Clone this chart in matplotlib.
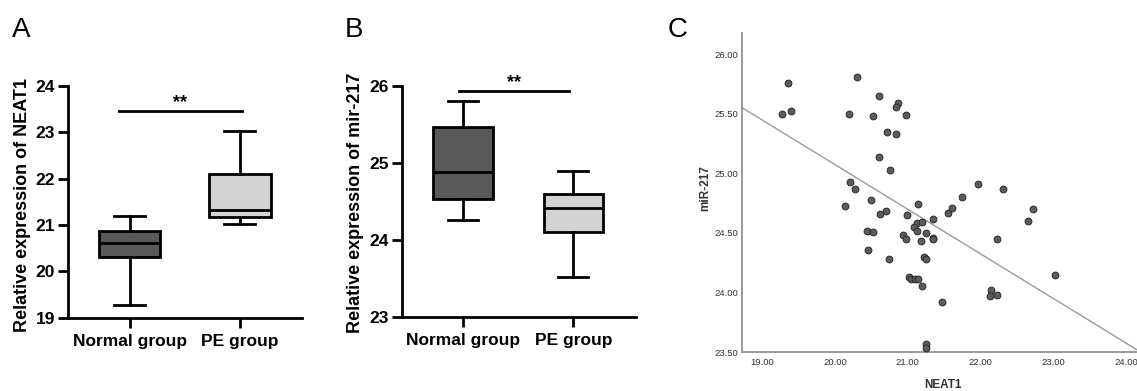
import matplotlib
matplotlib.use("Agg")
import matplotlib.pyplot as plt
import numpy as np

plt.rcParams['font.family'] = ['Liberation Sans', 'DejaVu Sans']

# ---------------- data ----------------
groups = ["Normal group", "PE group"]

# Panel A: NEAT1 box statistics (whislo, q1, med, q3, whishi)
neat1_normal = [19.27, 20.30, 20.61, 20.875, 21.19]
neat1_pe = [21.03, 21.18, 21.32, 22.11, 23.03]

# Panel B: mir-217 box statistics
mir_normal = [24.26, 24.53, 24.88, 25.47, 25.80]
mir_pe = [23.51, 24.10, 24.42, 24.60, 24.89]

# Panel C: scatter NEAT1 vs miR-217
neat1_x = [19.36, 19.27, 19.39, 20.30, 20.19, 20.61, 20.52, 20.87, 20.84, 20.98,
           20.71, 20.84, 20.60, 20.76, 20.20, 20.28, 20.13, 20.49, 20.62, 20.70,
           20.44, 20.52, 20.45, 20.74, 21.14, 20.99, 21.13, 21.20, 21.08, 21.13,
           21.25, 21.34, 20.94, 20.98, 21.18, 21.34, 21.34, 21.22, 21.25, 21.02,
           21.04, 21.10, 21.14, 21.20, 21.47, 21.25, 21.25, 21.55, 21.61, 21.75,
           21.97, 22.31, 22.23, 22.65, 22.72, 22.14, 22.13, 22.23, 23.02]
mir217_y = [25.76, 25.50, 25.52, 25.81, 25.50, 25.65, 25.48, 25.59, 25.56, 25.49,
            25.35, 25.33, 25.14, 25.03, 24.93, 24.87, 24.73, 24.78, 24.66, 24.68,
            24.52, 24.51, 24.36, 24.28, 24.74, 24.65, 24.58, 24.59, 24.55, 24.52,
            24.50, 24.62, 24.48, 24.45, 24.43, 24.46, 24.45, 24.30, 24.28, 24.13,
            24.11, 24.11, 24.11, 24.05, 23.92, 23.57, 23.53, 24.67, 24.71, 24.80,
            24.91, 24.87, 24.45, 24.60, 24.70, 24.02, 23.97, 23.98, 24.15]
fit_slope = -0.3745
fit_intercept = 32.563

# ---------------- figure ----------------
W, H = 1137, 391
fig = plt.figure(figsize=(W / 100, H / 100), dpi=100)


def px_axes(left, top, right, bottom):
    return fig.add_axes([left / W, 1 - bottom / H, (right - left) / W, (bottom - top) / H])


def make_stats(vals, label):
    lo, q1, med, q3, hi = vals
    return dict(whislo=lo, q1=q1, med=med, q3=q3, whishi=hi, fliers=[], label=label)


def box_panel(ax, normal, pe, ylim, yticks, ylabel, width, sig_y, sig_x, label_coords):
    stats = [make_stats(normal, groups[0]), make_stats(pe, groups[1])]
    bp = ax.bxp(stats, positions=[0, 1], widths=width, patch_artist=True,
                showfliers=False,
                boxprops=dict(linewidth=2.0, edgecolor='black'),
                whiskerprops=dict(linewidth=2.0, color='black'),
                capprops=dict(linewidth=2.0, color='black'),
                medianprops=dict(linewidth=2.0, color='black'),
                capwidths=width / 2)
    for patch, c in zip(bp['boxes'], ['#595959', '#d3d3d3']):
        patch.set_facecolor(c)
    ax.set_xlim(-0.557, 1.568)
    ax.set_ylim(*ylim)
    ax.set_yticks(yticks)
    ax.set_xticks([0, 1])
    ax.set_xticklabels(groups)
    for s in ['top', 'right']:
        ax.spines[s].set_visible(False)
    for s in ['left', 'bottom']:
        ax.spines[s].set_linewidth(2.0)
    ax.tick_params(axis='both', length=7, width=2.0, labelsize=12.5)
    ax.tick_params(axis='y', pad=2.5)
    ax.tick_params(axis='x', pad=4.5)
    for t in ax.get_xticklabels() + ax.get_yticklabels():
        t.set_fontweight('bold')
    lab = ax.set_ylabel(ylabel, fontsize=13, fontweight='bold')
    lab.set_verticalalignment('center')
    ax.yaxis.set_label_coords(*label_coords)
    ax.plot(sig_x, [sig_y, sig_y], color='black', lw=2.0, clip_on=False)
    ax.text(np.mean(sig_x), sig_y, "**", ha='center', va='bottom',
            fontsize=13, fontweight='bold')


# Panel A
axA = px_axes(68.3, 86, 302.3, 317.7)
box_panel(axA, neat1_normal, neat1_pe, (19, 24), [19, 20, 21, 22, 23, 24],
          "Relative expression of NEAT1", 0.56, 23.45, [-0.1, 1.02], (-0.194, 0.486))

# Panel B
axB = px_axes(401.7, 86, 636, 316.7)
box_panel(axB, mir_normal, mir_pe, (23, 26), [23, 24, 25, 26],
          "Relative expression of mir-217", 0.54, 25.93, [-0.04, 0.96], (-0.199, 0.494))

# Panel C
axC = px_axes(742.3, 33.3, 1136.5, 352)
axC.scatter(neat1_x, mir217_y, s=24, facecolor='#5c5c5c', edgecolor='#2a2a2a',
            linewidths=0.7, zorder=3)
xl = np.array([18.725, 24.144])
axC.plot(xl, fit_intercept + fit_slope * xl, color='#9a9a9a', lw=1.0, zorder=2)
axC.set_xlim(18.725, 24.144)
axC.set_ylim(23.5, 26.176)
xt = [19, 20, 21, 22, 23, 24]
yt = [23.5, 24.0, 24.5, 25.0, 25.5, 26.0]
axC.set_xticks(xt)
axC.set_xticklabels([f"{v:.2f}" for v in xt])
axC.set_yticks(yt)
axC.set_yticklabels([f"{v:.2f}" for v in yt])
for s in ['top', 'right']:
    axC.spines[s].set_visible(False)
for s in ['left', 'bottom']:
    axC.spines[s].set_linewidth(1.4)
    axC.spines[s].set_color('#9a9a9a')
axC.tick_params(axis='both', length=0, labelsize=6.8, labelcolor='#333333')
axC.tick_params(axis='y', pad=3)
axC.tick_params(axis='x', pad=4.5)
for t in axC.get_xticklabels() + axC.get_yticklabels():
    t.set_fontfamily(['Liberation Sans Narrow', 'Liberation Sans'])
xlab = axC.set_xlabel("NEAT1", fontsize=8.5, fontweight='bold', color='#333333')
ylab = axC.set_ylabel("miR-217", fontsize=8.5, fontweight='bold', color='#333333')
xlab.set_verticalalignment('center')
ylab.set_verticalalignment('center')
axC.xaxis.set_label_coords(0.509, -0.1035)
axC.yaxis.set_label_coords(-0.0946, 0.515)

# Panel letters
for lab, x in [("A", 12), ("B", 345), ("C", 668)]:
    fig.text(x / W, 1 - 37 / H, lab, fontsize=20, ha='left', va='baseline')

fig.savefig("out.png", dpi=100)
